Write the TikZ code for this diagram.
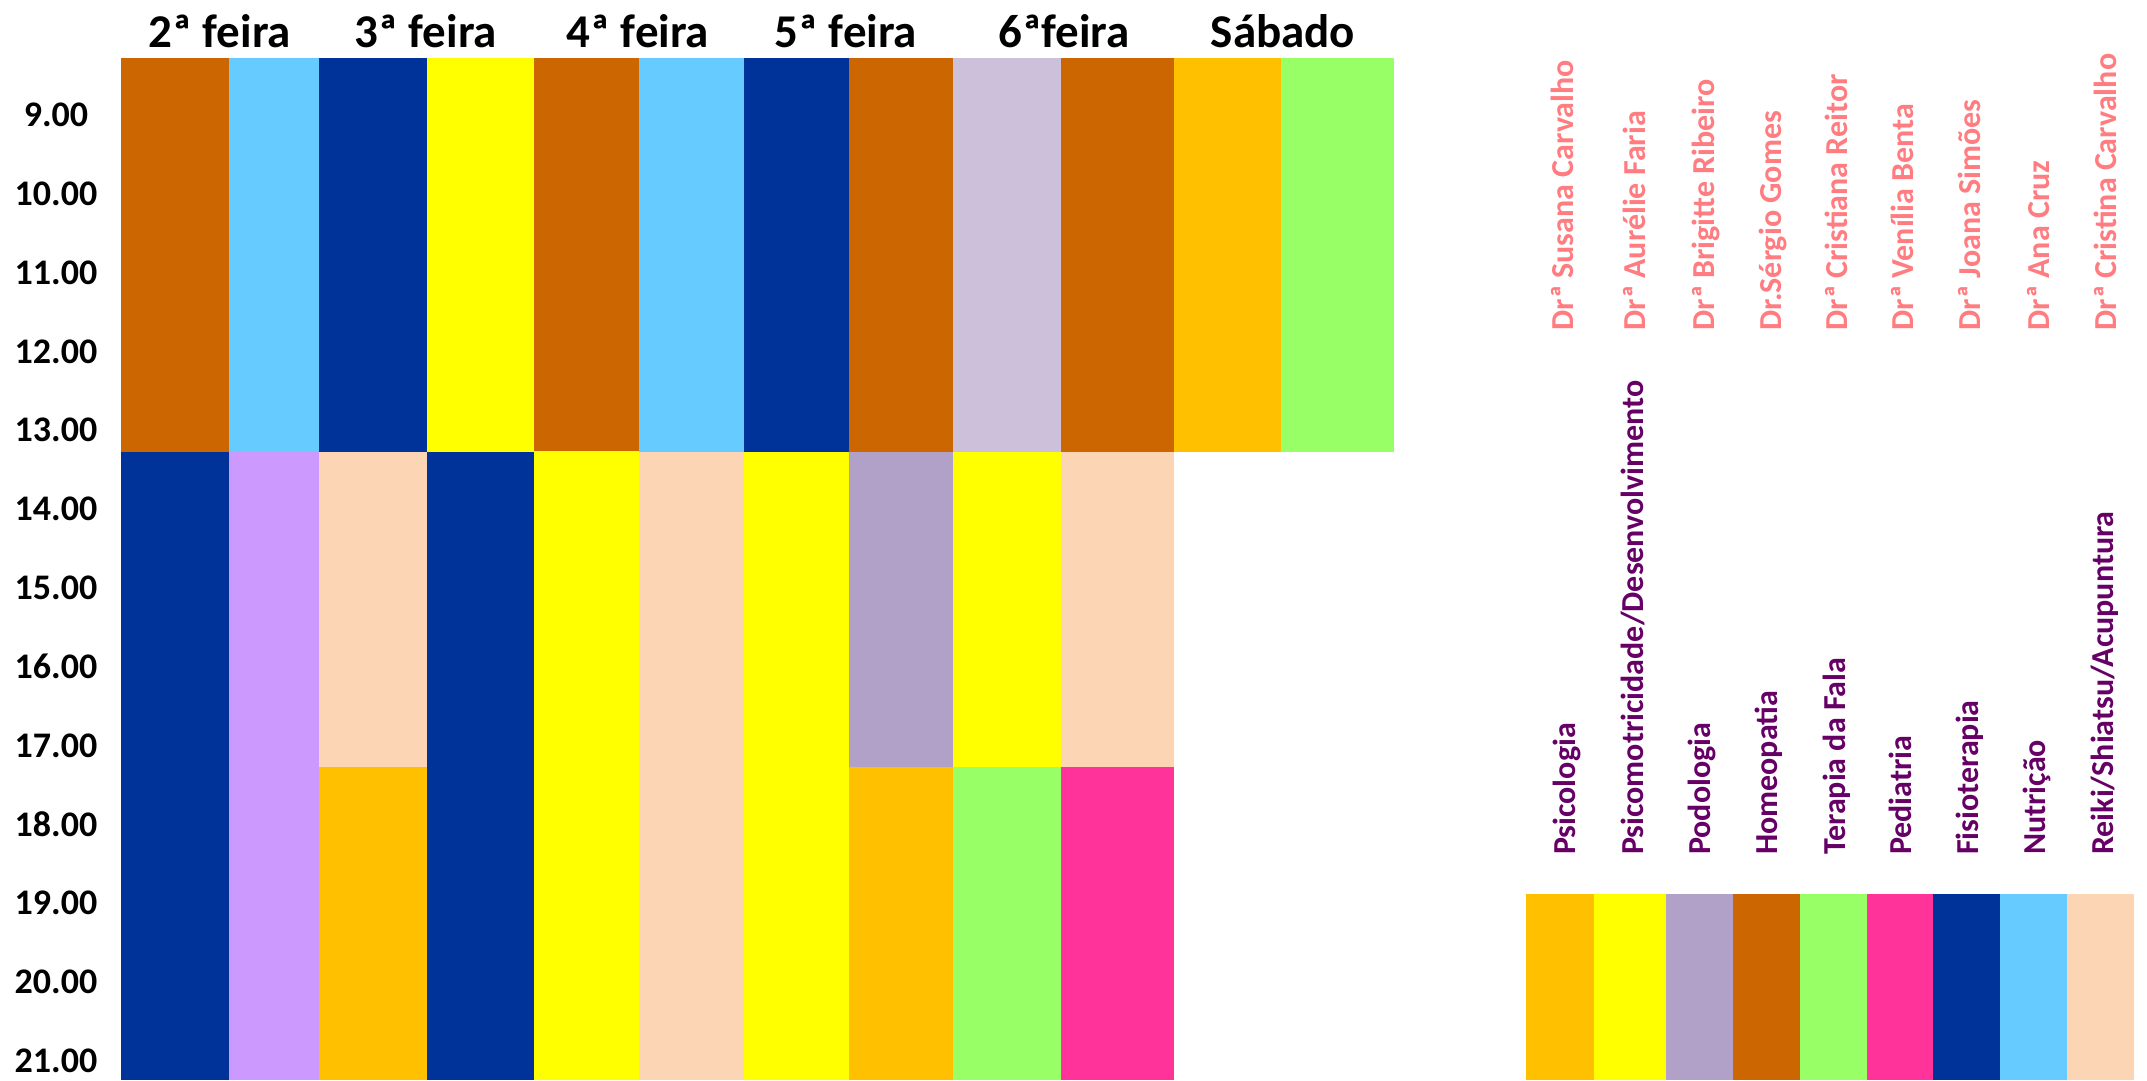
\documentclass[tikz,border=0pt]{standalone}
\usepackage{fontspec}
\setmainfont{Carlito}
\definecolor{cbrown}{HTML}{CC6600}
\definecolor{clblue}{HTML}{66CCFF}
\definecolor{cdblue}{HTML}{003399}
\definecolor{cyellow}{HTML}{FFFF00}
\definecolor{corange}{HTML}{FFC000}
\definecolor{cgreen}{HTML}{99FF66}
\definecolor{clav}{HTML}{CCC0DA}
\definecolor{cviolet}{HTML}{CC99FF}
\definecolor{cpeach}{HTML}{FCD5B4}
\definecolor{cpodo}{HTML}{B1A0C7}
\definecolor{cpink}{HTML}{FF3399}
\definecolor{cname}{HTML}{FF7C80}
\definecolor{cspec}{HTML}{660066}
\begin{document}
\begin{tikzpicture}[x=1pt,y=-1pt,
  dayhead/.style={inner sep=0pt,anchor=base,font=\fontsize{47}{50}\selectfont\bfseries},
  timelab/.style={inner sep=0pt,font=\fontsize{36}{40}\selectfont\bfseries},
  doclab/.style={inner sep=0pt,rotate=90,anchor=base west,text=cname,font=\fontsize{32}{34}\selectfont\bfseries},
  speclab/.style={inner sep=0pt,rotate=90,anchor=base west,text=cspec,font=\fontsize{32}{34}\selectfont\bfseries}]
\useasboundingbox (0,0) rectangle (2147,1080);
\fill[white] (0,0) rectangle (2147,1080);
% morning block
\fill[cbrown]  (121,57.5) rectangle (229,452);
\fill[clblue]  (229,57.5) rectangle (319,452);
\fill[cdblue]  (319,57.5) rectangle (427,452);
\fill[cyellow] (427,57.5) rectangle (534,452);
\fill[cbrown]  (534,57.5) rectangle (639,452);
\fill[clblue]  (639,57.5) rectangle (744,452);
\fill[cdblue]  (744,57.5) rectangle (849,452);
\fill[cbrown]  (849,57.5) rectangle (953,452);
\fill[clav]    (953,57.5) rectangle (1061,452);
\fill[cbrown]  (1061,57.5) rectangle (1174,452);
\fill[corange] (1174,57.5) rectangle (1281,452);
\fill[cgreen]  (1281,57.5) rectangle (1394,452);
% afternoon block
\fill[cdblue]  (121,452) rectangle (229,1080);
\fill[cviolet] (229,452) rectangle (319,1080);
\fill[cpeach]  (319,452) rectangle (427,767);
\fill[corange] (319,767) rectangle (427,1080);
\fill[cdblue]  (427,452) rectangle (534,1080);
\fill[cyellow] (534,451) rectangle (639,1080);
\fill[cpeach]  (639,452) rectangle (744,1080);
\fill[cyellow] (744,452) rectangle (849,1080);
\fill[cpodo]   (849,452) rectangle (953,767);
\fill[corange] (849,767) rectangle (953,1080);
\fill[cyellow] (953,452) rectangle (1061,767);
\fill[cgreen]  (953,767) rectangle (1061,1080);
\fill[cpeach]  (1061,452) rectangle (1174,767);
\fill[cpink]   (1061,767) rectangle (1174,1080);
% day headers
\node[dayhead] (d2) at (220,47) {2ª feira};
\node[dayhead] (d3) at (426,47) {3ª feira};
\node[dayhead] (d4) at (638,47) {4ª feira};
\node[dayhead] (d5) at (846,47) {5ª feira};
\node[dayhead] (d6) at (1064,47) {6ªfeira};
\node[dayhead] (d7) at (1283,47) {Sábado};
% time labels
\foreach \h [count=\k from 0] in {9,10,...,21}
  \node[timelab] (t\h) at (56,{115+78.8*\k}) {\h.00};
% legend boxes
\fill[corange] (1526,894) rectangle (1594,1080);
\fill[cyellow] (1594,894) rectangle (1666,1080);
\fill[cpodo]   (1666,894) rectangle (1733,1080);
\fill[cbrown]  (1733,894) rectangle (1800,1080);
\fill[cgreen]  (1800,894) rectangle (1867,1080);
\fill[cpink]   (1867,894) rectangle (1933,1080);
\fill[cdblue]  (1933,894) rectangle (2000,1080);
\fill[clblue]  (2000,894) rectangle (2067,1080);
\fill[cpeach]  (2067,894) rectangle (2134,1080);
% doctor names
\node[doclab] (n1) at (1573.4,330.7) {Drª Susana Carvalho};
\node[doclab] (n2) at (1645.7,330.7) {Drª Aurélie Faria};
\node[doclab] (n3) at (1714.5,330.7) {Drª Brigitte Ribeiro};
\node[doclab] (n4) at (1781,330.7) {Dr.Sérgio Gomes};
\node[doclab] (n5) at (1847.4,330.7) {Drª Cristiana Reitor};
\node[doclab] (n6) at (1913.8,330.7) {Drª Venília Benta};
\node[doclab] (n7) at (1980.6,330.7) {Drª Joana Simões};
\node[doclab] (n8) at (2049.8,330.7) {Drª Ana Cruz};
\node[doclab] (n9) at (2116.3,330.7) {Drª Cristina Carvalho};
% specialties
\node[speclab] (s1) at (1575.4,855) {Psicologia};
\node[speclab] (s2) at (1643.4,855) {Psicomotricidade/Desenvolvimento};
\node[speclab] (s3) at (1710.6,855) {Podologia};
\node[speclab] (s4) at (1777.8,855) {Homeopatia};
\node[speclab] (s5) at (1845,855) {Terapia da Fala};
\node[speclab] (s6) at (1911.5,855) {Pediatria};
\node[speclab] (s7) at (1978.7,855) {Fisioterapia};
\node[speclab] (s8) at (2045.9,855) {Nutrição};
\node[speclab] (s9) at (2113.1,855) {Reiki/Shiatsu/Acupuntura};
\end{tikzpicture}
\end{document}
